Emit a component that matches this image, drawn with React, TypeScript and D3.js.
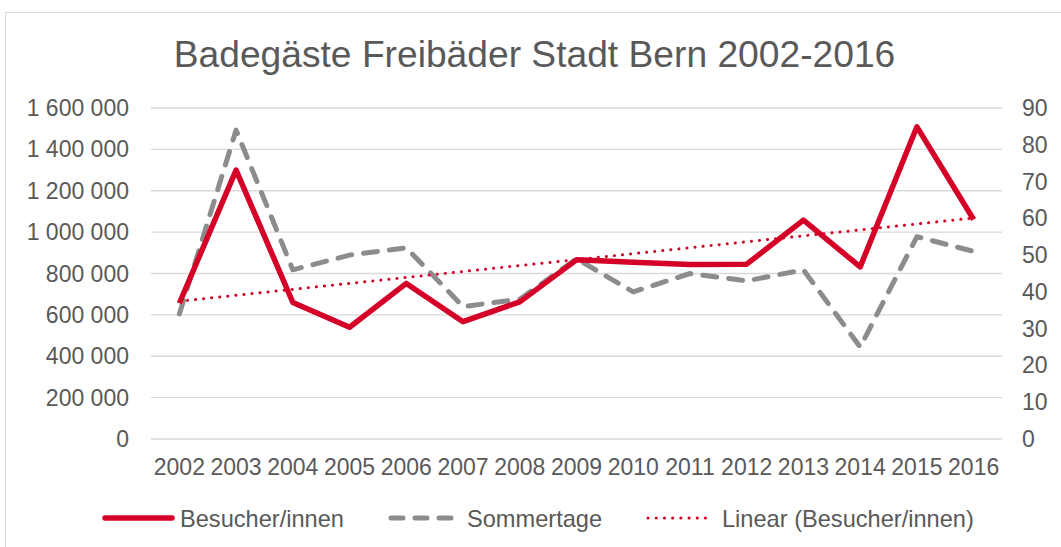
import * as d3 from "d3";

const years = [
  "2002", "2003", "2004", "2005", "2006", "2007", "2008", "2009",
  "2010", "2011", "2012", "2013", "2014", "2015", "2016",
];
const besucher = [
  656000, 1300000, 660000, 540000, 752000, 567000, 663000, 866000,
  854000, 844000, 845000, 1058000, 832000, 1509000, 1061000,
];
const sommertage = [34, 84, 46, 50, 52, 36, 38, 49, 40, 45, 43, 46, 25, 55, 51];
const leftTicks = [0, 200000, 400000, 600000, 800000, 1000000, 1200000, 1400000, 1600000];
const rightTicks = [0, 10, 20, 30, 40, 50, 60, 70, 80, 90];

const width = 1061;
const height = 547;
const plot = { left: 151, right: 1002, top: 108, bottom: 439 };

const RED = "#d40027";
const GREY = "#8c8c8c";
const TEXT = "#595959";
const FONT = "'Liberation Sans', Arial, sans-serif";

const fmt = (v: number) => d3.format(",")(v).replace(/,/g, " ");

export default function App() {
  const x = d3.scaleBand().domain(years).range([plot.left, plot.right]);
  const cx = (y: string) => (x(y) ?? 0) + x.bandwidth() / 2;
  const yL = d3.scaleLinear().domain([0, 1600000]).range([plot.bottom, plot.top]);
  const yR = d3.scaleLinear().domain([0, 90]).range([plot.bottom, plot.top]);

  // linear trend (least squares) over Besucher/innen
  const idx = besucher.map((_, i) => i);
  const mx = d3.mean(idx) ?? 0;
  const my = d3.mean(besucher) ?? 0;
  const sxy = d3.sum(idx, (i) => (i - mx) * (besucher[i] - my));
  const sxx = d3.sum(idx, (i) => (i - mx) ** 2);
  const slope = sxy / sxx;
  const trend = idx.map((i) => my + slope * (i - mx));

  const lineL = d3
    .line<number>()
    .x((_, i) => cx(years[i]))
    .y((d) => yL(d));
  const lineR = d3
    .line<number>()
    .x((_, i) => cx(years[i]))
    .y((d) => yR(d));

  return (
    <svg
      width={width}
      height={height}
      style={{ position: "absolute", left: 0, top: 0, background: "#fff" }}
      fontFamily={FONT}
    >
      <rect x={5.5} y={12.5} width={1100} height={600} fill="#fff" stroke="#d9d9d9" strokeWidth={1} />
      <text x={534.5} y={66.5} textAnchor="middle" fontSize={37.2} fill={TEXT}>
        Badegäste Freibäder Stadt Bern 2002-2016
      </text>

      {leftTicks.map((t) => (
        <g key={t}>
          <line
            x1={plot.left}
            x2={plot.right}
            y1={yL(t)}
            y2={yL(t)}
            stroke="#d9d9d9"
            strokeWidth={1.3}
          />
          <text x={129} y={yL(t) + 8} textAnchor="end" fontSize={23} fill={TEXT}>
            {fmt(t)}
          </text>
        </g>
      ))}
      {rightTicks.map((t) => (
        <text key={t} x={1022} y={yR(t) + 8} fontSize={23} fill={TEXT}>
          {t}
        </text>
      ))}
      {years.map((y) => (
        <text key={y} x={cx(y)} y={475} textAnchor="middle" fontSize={23} fill={TEXT}>
          {y}
        </text>
      ))}

      <path
        d={lineR(sommertage) ?? ""}
        fill="none"
        stroke={GREY}
        strokeWidth={5}
        strokeDasharray="14 12"
        strokeLinecap="round"
        strokeLinejoin="round"
      />
      <path
        d={lineL(besucher) ?? ""}
        fill="none"
        stroke={RED}
        strokeWidth={5.5}
        strokeLinejoin="round"
      />
      <path
        d={lineL(trend) ?? ""}
        fill="none"
        stroke={RED}
        strokeWidth={3}
        strokeDasharray="0.1 8"
        strokeLinecap="round"
      />

      {/* legend */}
      <g fontSize={23.6} fill={TEXT}>
        <line x1={105} x2={172} y1={518} y2={518} stroke={RED} strokeWidth={5.5} strokeLinecap="round" />
        <text x={180} y={527}>Besucher/innen</text>
        <line
          x1={391}
          x2={452}
          y1={518}
          y2={518}
          stroke={GREY}
          strokeWidth={5}
          strokeDasharray="12 12"
          strokeLinecap="round"
        />
        <text x={467} y={527}>Sommertage</text>
        <line
          x1={648}
          x2={713}
          y1={518}
          y2={518}
          stroke={RED}
          strokeWidth={3}
          strokeDasharray="0.1 8.1"
          strokeLinecap="round"
        />
        <text x={722} y={527}>Linear (Besucher/innen)</text>
      </g>
    </svg>
  );
}
